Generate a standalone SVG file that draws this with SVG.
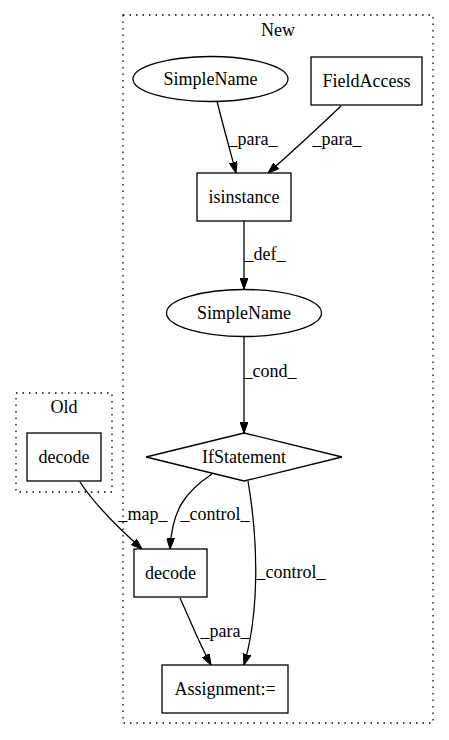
<svg xmlns="http://www.w3.org/2000/svg" width="449" height="740" viewBox="0 0 449 740">
<style>
text{font-family:"Liberation Serif","Times New Roman",serif;font-size:18px;fill:#000;text-anchor:middle}
.n{fill:#fff;stroke:#000;stroke-width:1.3}
.c{fill:none;stroke:#000;stroke-width:1.3;stroke-dasharray:1.5,5}
.e{fill:none;stroke:#000;stroke-width:1.3}
</style>
<defs>
<marker id="a" viewBox="0 0 11 8" refX="11" refY="4" markerWidth="11" markerHeight="8" orient="auto" markerUnits="userSpaceOnUse">
<path d="M0,0 L11,4 L0,8 z" fill="#000" stroke="#000"/>
</marker>
</defs>
<rect width="449" height="740" fill="#fff"/>
<g id="cluster_new">
<rect class="c" x="123" y="15" width="310" height="708"/>
<text x="278" y="36">New</text>
</g>
<g id="cluster_old">
<rect class="c" x="16" y="393" width="96" height="99"/>
<text x="64" y="413">Old</text>
</g>
<g id="edges">
<path class="e" marker-end="url(#a)" d="M217,101 C222,122 230,150 236,173"/>
<text x="253" y="145">_para_</text>
<path class="e" marker-end="url(#a)" d="M341,106 C320,126 292,152 268,173"/>
<text x="337" y="145">_para_</text>
<path class="e" marker-end="url(#a)" d="M244,221 L244,289"/>
<text x="265" y="260">_def_</text>
<path class="e" marker-end="url(#a)" d="M244,337 L244,433"/>
<text x="270" y="377">_cond_</text>
<path class="e" marker-end="url(#a)" d="M212,474 C185,492 172,510 170,549"/>
<text x="215" y="520">_control_</text>
<path class="e" marker-end="url(#a)" d="M248,481 C258,540 260,610 244,665"/>
<text x="291" y="578">_control_</text>
<path class="e" marker-end="url(#a)" d="M80,482 C95,505 115,525 142,549"/>
<text x="143" y="520">_map_</text>
<path class="e" marker-end="url(#a)" d="M180,598 C190,620 200,645 211,665"/>
<text x="225" y="637">_para_</text>
</g>
<g id="simplename1">
<ellipse class="n" cx="210.5" cy="79" rx="77.5" ry="22.5"/>
<text x="210.5" y="85">SimpleName</text>
</g>
<g id="fieldaccess">
<rect class="n" x="311" y="57" width="111" height="48"/>
<text x="366.5" y="87">FieldAccess</text>
</g>
<g id="isinstance">
<rect class="n" x="197" y="173" width="94" height="48"/>
<text x="244" y="203">isinstance</text>
</g>
<g id="simplename2">
<ellipse class="n" cx="244" cy="313" rx="77.5" ry="23.5"/>
<text x="244" y="319">SimpleName</text>
</g>
<g id="ifstatement">
<polygon class="n" points="244,433 342,457 244,481 146,457"/>
<text x="244" y="463">IfStatement</text>
</g>
<g id="decode_old">
<rect class="n" x="27" y="433" width="74" height="48"/>
<text x="64" y="463">decode</text>
</g>
<g id="decode_new">
<rect class="n" x="134" y="549" width="73" height="48"/>
<text x="170.5" y="579">decode</text>
</g>
<g id="assignment">
<rect class="n" x="162" y="665" width="126" height="48"/>
<text x="225" y="695">Assignment:=</text>
</g>
</svg>
